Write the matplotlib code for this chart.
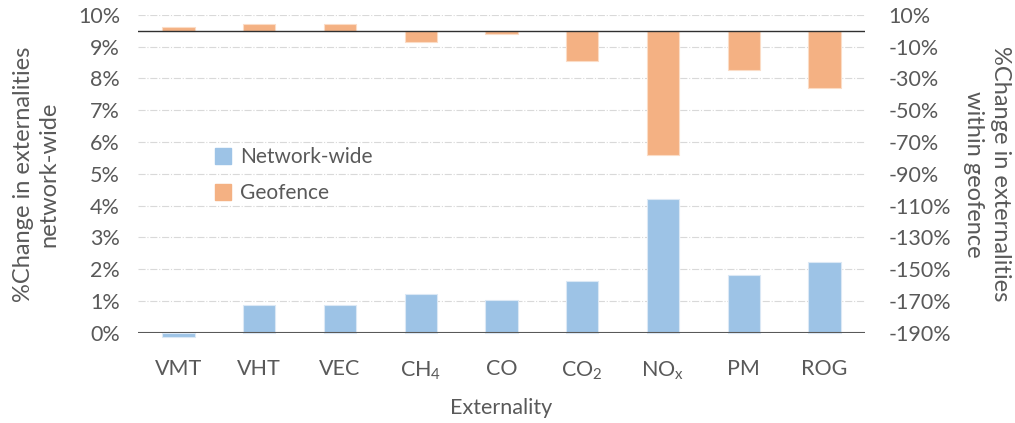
import numpy as np
import matplotlib.pyplot as plt
from matplotlib.patches import Patch

plt.rcParams['font.family'] = ['Lato', 'DejaVu Sans']
plt.rcParams['mathtext.default'] = 'regular'

# datos
categorias = ['VMT', 'VHT', 'VEC', r'CH$_4$', 'CO', r'CO$_2$', r'NO$_x$', 'PM', 'ROG']
red = [-0.13, 0.87, 0.87, 1.22, 1.05, 1.63, 4.2, 1.81, 2.23]        # % network-wide
geocerca = [2.5, 4.2, 4.2, -7.4, -2.3, -19.3, -78.0, -24.5, -36.0]  # % within geofence

azul = '#9dc3e6'
naranja = '#f4b183'
gris = '#595959'

fig = plt.figure(figsize=(10.15, 4.23), dpi=100)
ax1 = fig.add_axes([0.136, 0.213, 0.716, 0.752])
ax2 = ax1.twinx()

x = np.arange(len(categorias))
barras = ax1.bar(x, red, width=0.4, color=azul, edgecolor='#dbe8f5', linewidth=0.8, zorder=3)
for b in barras:
    b.set_clip_on(False)
ax2.bar(x, geocerca, width=0.4, color=naranja, edgecolor='#fbdcc6', linewidth=0.8, zorder=3)

ax1.set_ylim(0, 10)
ax1.set_yticks(np.arange(0, 11, 1))
ax1.set_yticklabels([f'{v}%' for v in range(0, 11)])
ax2.set_ylim(-190, 10)
ax2.set_yticks(np.arange(-190, 11, 20))
ax2.set_yticklabels([f'{v}%' for v in range(-190, 11, 20)])
ax1.set_xlim(-0.5, len(categorias) - 0.5)
ax1.set_xticks(x)
ax1.set_xticklabels(categorias)

ax1.grid(axis='y', color='#d9d9d9', linestyle='-.', linewidth=0.8, zorder=0)
ax1.set_axisbelow(True)
ax1.axhline(0, color=gris, linewidth=1.5, zorder=4)
ax2.axhline(0, color='#303030', linewidth=1, zorder=4)

for ax in (ax1, ax2):
    for s in ax.spines.values():
        s.set_visible(False)
    ax.tick_params(length=0, labelsize=15.5, colors=gris)
ax1.tick_params(axis='x', pad=19)
ax1.tick_params(axis='y', pad=13)
ax2.tick_params(axis='y', pad=17)

ax1.set_xlabel('Externality', fontsize=15.5, color=gris, labelpad=12)

# titulos de ejes verticales
fig.text(0.036, 0.589, '%Change in externalities\nnetwork-wide', fontsize=17, color=gris,
         rotation=90, ha='center', va='center', linespacing=1.25)
fig.text(0.972, 0.589, '%Change in externalities\nwithin geofence', fontsize=17, color=gris,
         rotation=270, ha='center', va='center', linespacing=1.35)

manejadores = [Patch(color=azul), Patch(color=naranja)]
ax1.legend(manejadores, ['Network-wide', 'Geofence'], loc='upper left',
           bbox_to_anchor=(0.094, 0.61), frameon=False, fontsize=15,
           labelcolor=gris, handlelength=0.8, handleheight=0.8, handletextpad=0.4,
           labelspacing=0.75, borderaxespad=0)

plt.savefig('out.png', dpi=100)
